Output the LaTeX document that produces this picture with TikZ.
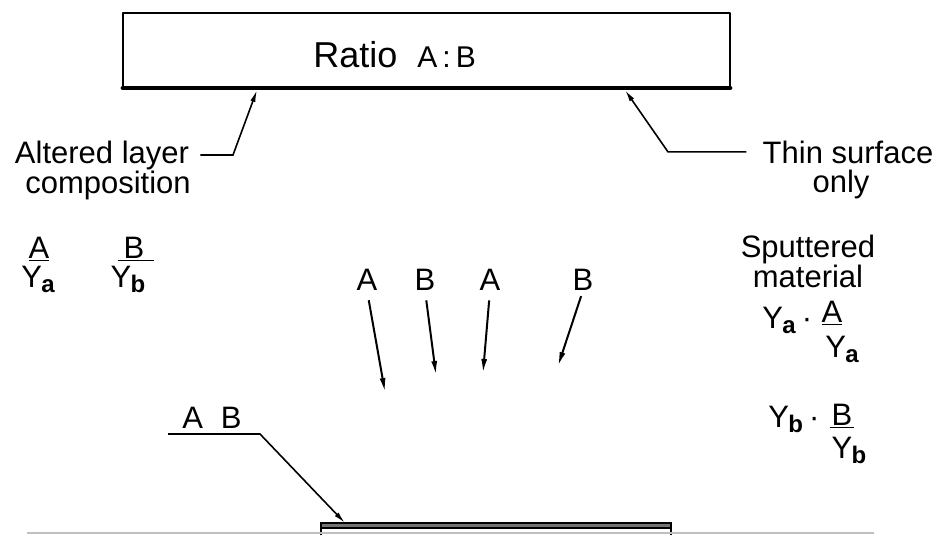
\documentclass[tikz,border=0pt]{standalone}
\usepackage{fontspec}
\setmainfont{Liberation Sans}
\usetikzlibrary{arrows.meta,calc}
\usepackage{tkz-euclide}

\newcommand\yld[1]{Y\kern-.3pt\raisebox{-2.5pt}{\fontsize{12}{12}\selectfont\bfseries #1}}

\begin{document}
\begin{tikzpicture}[x=0.5pt,y=-0.5pt,
  txt/.style={font=\fontsize{15.5}{18}\selectfont,inner sep=0pt,anchor=base},
  leader/.style={line width=0.8pt,-{Latex[length=6pt,width=2.6pt]}},
  ion/.style={line width=1pt,-{Latex[length=7pt,width=3pt]}}]
\useasboundingbox (0,0) rectangle (942,535);
\tkzSetUpLine[line width=1pt,color=black]

% target
\tkzDefPoints{123/13/T1,730/13/T2,730/88/T3,123/88/T4}
\tkzDrawPolygon(T1,T2,T3,T4)
\tkzDrawSegment[line width=2.4pt](T4,T3)
\node[txt,anchor=base west] (ratio) at (313,68)
  {\fontsize{18}{20}\selectfont Ratio\hspace{5pt} \fontsize{15}{18}\selectfont A\,:\,B};

% altered layer
\node[txt] (alt1) at (102,163) {Altered layer};
\node[txt] (alt2) at (108,193) {composition};
\tkzDefPoints{233/153/Lb,257/90/Lt}
\draw[leader,shorten <=5.5pt] (alt1.east) -- (alt1.east -| Lb) -- (Lt);

% thin surface
\node[txt] (thin1) at (848,163) {Thin surface};
\node[txt] (thin2) at (841,192) {only};
\tkzDefPoints{668/148/Rb,625/90/Rt}
\draw[leader,shorten <=8pt] (thin1.west) -- (thin1.west -| Rb) -- (Rt);

% left ratios
\node[txt] (na) at (39,258) {\underline{A}};
\node[txt] (nay) at (38,287) {\yld{a}};
\node[txt] (nb) at (136,258) {\underline{\kern3pt B\kern5pt}};
\node[txt] (nby) at (128,287) {\yld{b}};

% incoming ions
\node[txt] (i1) at (367,290) {A};
\node[txt] (i2) at (425,290) {B};
\node[txt] (i3) at (490,290) {A};
\node[txt] (i4) at (583,290) {B};
\tkzDefPoints{385/392/H1,436/375/H2,483/373/H3,558/366/H4}
\draw[ion,shorten <=5pt] (i1.south) -- (H1);
\draw[ion,shorten <=5pt] (i2.south) -- (H2);
\draw[ion,shorten <=5pt] (i3.south) -- (H3);
\draw[ion,shorten <=3pt] (i4.south) -- (H4);

% sputtered material
\node[txt] (sp1) at (808,257) {Sputtered};
\node[txt] (sp2) at (808,287) {material};
\node[txt,anchor=base west] (ya) at (762,328) {\yld{a}\hspace{3pt}\textperiodcentered};
\node[txt] (yan) at (832,322) {\underline{A}};
\node[txt] (yad) at (842,357) {\yld{a}};
\node[txt,anchor=base west] (yb) at (768,427) {\yld{b}\hspace{3pt}\textperiodcentered};
\node[txt] (ybn) at (842,425) {\underline{\kern1pt B\kern1pt}};
\node[txt] (ybd) at (849,458) {\yld{b}};

% substrate
\node[txt] (ab) at (212,428) {A\hspace{9pt}B};
\tkzDefPoints{168/434/Ws,260/434/Wb,345/523/Wt}
\draw[leader] (Ws) -- (Wb) -- (Wt);
\tkzDefPoints{321/535/S1,321/523/S2,671/523/S3,671/535/S4,671/528/S5}
\draw[line width=1pt] (S1) -- (S2) -- (S3) -- (S4);
\draw[line width=0.8pt,fill=black!55] (S2) rectangle (S5);
\tkzDefPoints{27/533/G1,874/533/G2}
\draw[gray!50,line width=0.6pt] (G1) -- (G2);

\end{tikzpicture}
\end{document}
